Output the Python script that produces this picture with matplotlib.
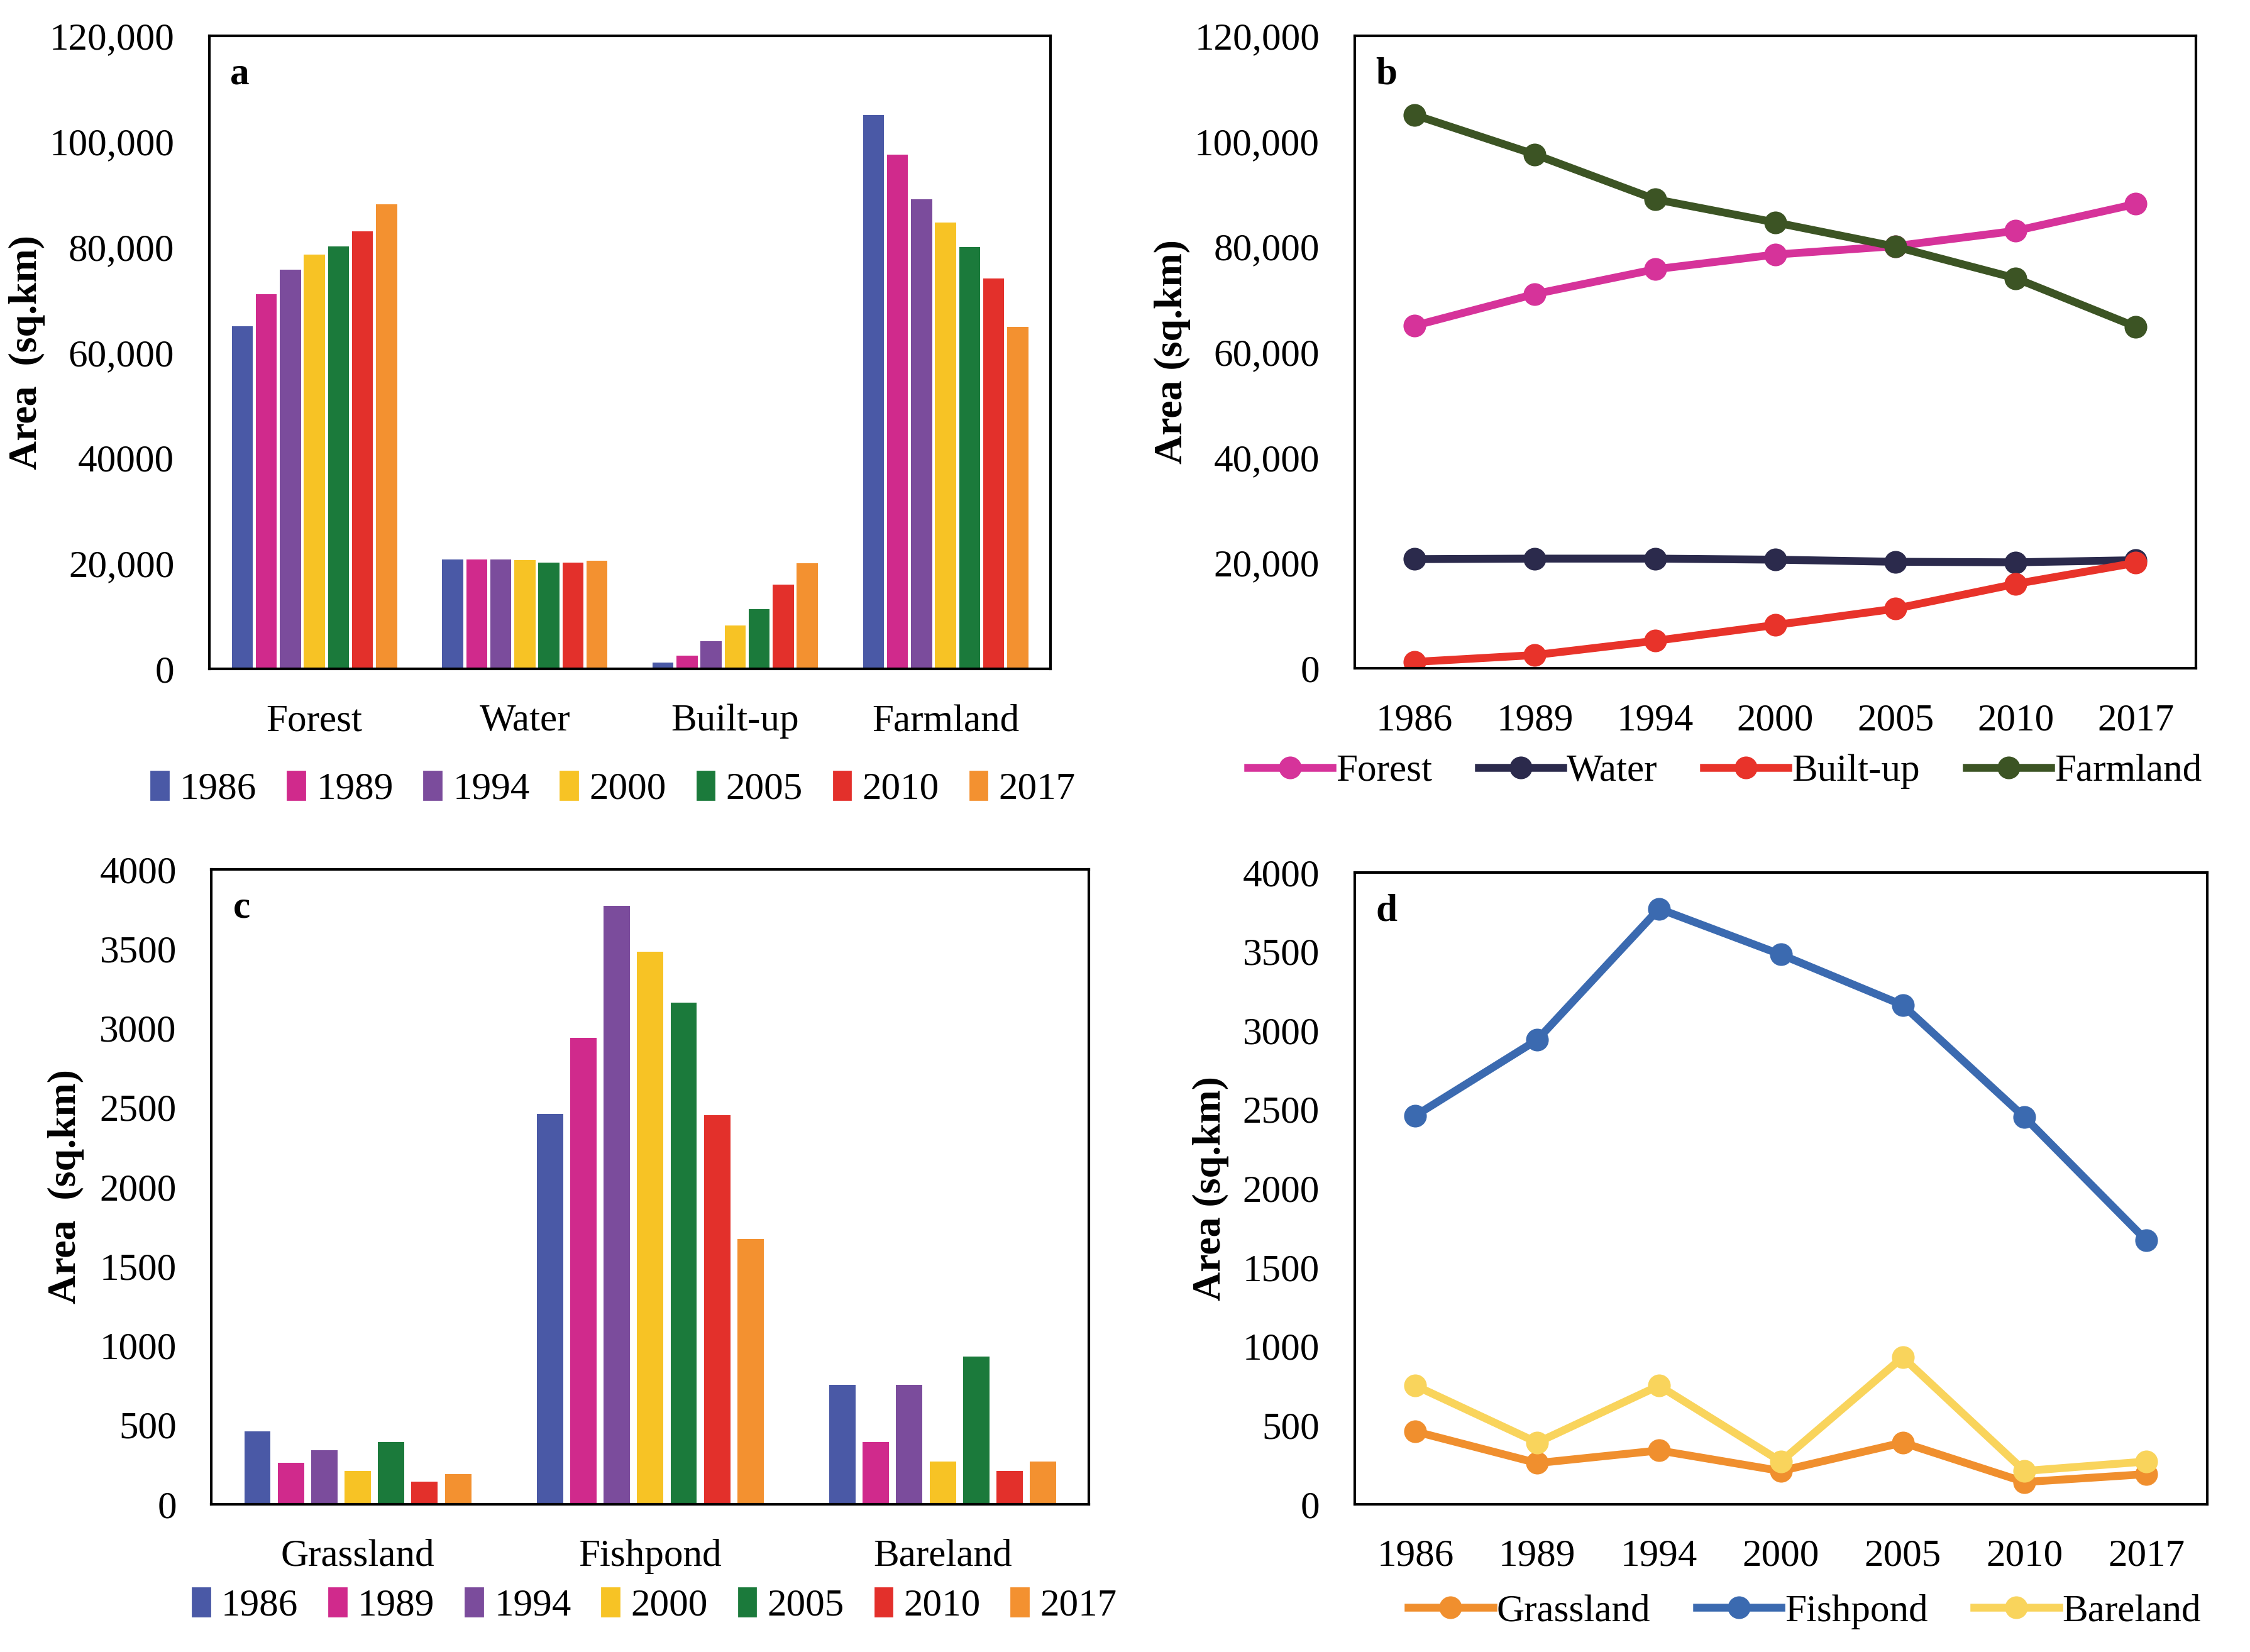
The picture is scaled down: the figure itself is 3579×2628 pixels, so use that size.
import matplotlib
matplotlib.use("Agg")
import matplotlib.pyplot as plt
import numpy as np
from matplotlib.patches import Patch

plt.rcParams['font.family'] = ['Liberation Serif', 'DejaVu Serif']

years = ['1986', '1989', '1994', '2000', '2005', '2010', '2017']
year_colors = ['#4a59a6', '#d02a8c', '#7b4c9c', '#f7c325', '#1b7a3b', '#e3302b', '#f39130']

cats_major = ['Forest', 'Water', 'Built-up', 'Farmland']
forest = [65000, 71000, 75700, 78500, 80100, 83000, 88100]
water = [20700, 20800, 20800, 20600, 20200, 20100, 20500]
builtup = [1200, 2500, 5200, 8200, 11300, 16000, 20000]
farmland = [105000, 97500, 89000, 84600, 80000, 74000, 64800]
major_colors = ['#d6339a', '#2b2a4c', '#e8332a', '#3c5424']

cats_minor = ['Grassland', 'Fishpond', 'Bareland']
grassland = [460, 260, 340, 210, 390, 140, 190]
fishpond = [2460, 2940, 3770, 3480, 3160, 2450, 1670]
bareland = [750, 390, 750, 270, 930, 210, 270]
minor_colors = ['#f08f2e', '#3b6ab0', '#f9d45c']

yticks_a = [0, 20000, 40000, 60000, 80000, 100000, 120000]
yticklabels_a = ['0', '20,000', '40000', '60,000', '80,000', '100,000', '120,000']
yticklabels_b = ['0', '20,000', '40,000', '60,000', '80,000', '100,000', '120,000']
yticks_c = [0, 500, 1000, 1500, 2000, 2500, 3000, 3500, 4000]

FS = 22

fig = plt.figure(figsize=(17.895, 13.14), dpi=200)

def style(ax, ylabel, lx):
    for s in ax.spines.values():
        s.set_linewidth(1.5)
        s.set_color('black')
    ax.tick_params(axis='both', length=0, labelsize=FS)
    ax.tick_params(axis='x', pad=20)
    ax.tick_params(axis='y', pad=20)
    ax.set_ylabel(ylabel, fontsize=FS + 1, fontweight='bold')
    ax.yaxis.set_label_coords(lx, 0.5)

def panel_letter(ax, s):
    ax.text(0.025, 0.967, s, transform=ax.transAxes, fontsize=FS, fontweight='bold', va='top')

def bar_panel(ax, cats, series, barw):
    x = np.arange(len(cats))
    n = len(years)
    slot = 0.8 / n
    for i in range(n):
        vals = [s[i] for s in series]
        ax.bar(x - 0.4 + slot * (i + 0.5), vals, width=barw, color=year_colors[i], label=years[i])
    ax.set_xticks(x)
    ax.set_xticklabels(cats)
    ax.set_xlim(-0.5, len(cats) - 0.5)

def bar_legend(ax, y, xc):
    ax.legend(handles=[Patch(color=c, label=yr) for c, yr in zip(year_colors, years)],
              loc='center', bbox_to_anchor=(xc, y), ncol=7, frameon=False, fontsize=FS,
              handlelength=0.45, handleheight=0.75, handletextpad=0.3, columnspacing=0.8)

def line_legend(ax, y, xc, ncol):
    ax.legend(loc='center', bbox_to_anchor=(xc, y), ncol=ncol, frameon=False, fontsize=FS,
              handlelength=2.2, handletextpad=0.1, columnspacing=1.2)

# Panel a
ax_a = fig.add_axes([0.093, 0.5951, 0.374, 0.3832])
bar_panel(ax_a, cats_major, [forest, water, builtup, farmland], 0.1)
ax_a.set_ylim(0, 120000)
ax_a.set_yticks(yticks_a)
ax_a.set_yticklabels(yticklabels_a)
style(ax_a, 'Area  (sq.km)', -0.195)
panel_letter(ax_a, 'a')
bar_legend(ax_a, -0.19, 0.48)

# Panel b
ax_b = fig.add_axes([0.602, 0.5955, 0.374, 0.3828])
xb = np.arange(len(years))
for name, vals, c in zip(cats_major, [forest, water, builtup, farmland], major_colors):
    ax_b.plot(xb, vals, color=c, lw=4.5, marker='o', ms=12, label=name)
ax_b.set_xticks(xb)
ax_b.set_xticklabels(years)
ax_b.set_xlim(-0.5, 6.5)
ax_b.set_ylim(0, 120000)
ax_b.set_yticks(yticks_a)
ax_b.set_yticklabels(yticklabels_b)
style(ax_b, 'Area (sq.km)', -0.195)
panel_letter(ax_b, 'b')
line_legend(ax_b, -0.163, 0.44, 4)

# Panel c
ax_c = fig.add_axes([0.094, 0.0895, 0.390, 0.3842])
bar_panel(ax_c, cats_minor, [grassland, fishpond, bareland], 0.09)
ax_c.set_ylim(0, 4000)
ax_c.set_yticks(yticks_c)
style(ax_c, 'Area  (sq.km)', -0.145)
panel_letter(ax_c, 'c')
bar_legend(ax_c, -0.16, 0.505)

# Panel d
ax_d = fig.add_axes([0.602, 0.0895, 0.379, 0.3824])
for name, vals, c in zip(cats_minor, [grassland, fishpond, bareland], minor_colors):
    ax_d.plot(xb, vals, color=c, lw=4.5, marker='o', ms=12, label=name)
ax_d.set_xticks(xb)
ax_d.set_xticklabels(years)
ax_d.set_xlim(-0.5, 6.5)
ax_d.set_ylim(0, 4000)
ax_d.set_yticks(yticks_c)
style(ax_d, 'Area (sq.km)', -0.147)
panel_letter(ax_d, 'd')
line_legend(ax_d, -0.17, 0.528, 3)

fig.savefig('out.png', dpi=200)
